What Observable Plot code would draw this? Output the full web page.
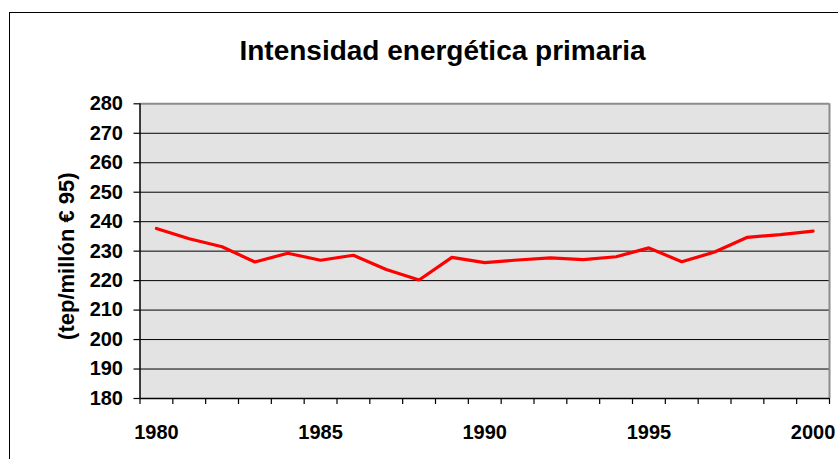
<!DOCTYPE html>
<html>
<head>
<meta charset="utf-8">
<script src="https://cdn.jsdelivr.net/npm/d3@7"></script>
<script src="https://cdn.jsdelivr.net/npm/@observablehq/plot@0.6"></script>
<style>
  html, body { margin: 0; padding: 0; background: #fff; overflow: hidden; }
  #wrap { position: relative; width: 838px; height: 459px; font-family: "Liberation Sans", Arial, sans-serif; }
  #border { position: absolute; left: 9px; top: 12px; width: 900px; height: 500px; border-left: 1.5px solid #000; border-top: 1.5px solid #000; }
  #title { position: absolute; left: 442.5px; top: 37px; transform: translateX(-50%); white-space: nowrap;
           font-size: 28px; line-height: 28px; font-weight: bold; color: #000; }
  #chart { position: absolute; left: 0; top: 76px; }
</style>
</head>
<body>
<div id="wrap">
  <div id="border"></div>
  <div id="title">Intensidad energética primaria</div>
  <div id="chart"></div>
</div>
<script>
const years = [1980,1981,1982,1983,1984,1985,1986,1987,1988,1989,1990,1991,1992,1993,1994,1995,1996,1997,1998,1999,2000];
const values = [237.7,234.2,231.5,226.3,229.3,226.9,228.6,223.8,220.2,227.9,226.1,227.0,227.7,227.1,228.1,231.1,226.4,229.7,234.7,235.6,236.8];
const yTicks = [180,190,200,210,220,230,240,250,260,270,280];
const xLabelYears = [1980,1985,1990,1995,2000];
const yLabel = "(tep/millón € 95)";

const data = years.map((y, i) => ({year: y, value: values[i]}));
const boundaries = years.map(y => y - 0.5).concat([years[years.length - 1] + 0.5]);
const xMin = boundaries[0], xMax = boundaries[boundaries.length - 1];
const yMin = yTicks[0], yMax = yTicks[yTicks.length - 1];

const chart = Plot.plot({
  width: 838,
  height: 383,
  marginLeft: 139.5,
  marginRight: 9,
  marginTop: 27.3,
  marginBottom: 61,
  x: {domain: [xMin, xMax]},
  y: {domain: [yMin, yMax]},
  style: {fontFamily: '"Liberation Sans", Arial, sans-serif', fontSize: "20px", fontWeight: "bold", color: "#000", background: "transparent", overflow: "visible"},
  marks: [
    Plot.frame({fill: "#e3e3e3", stroke: null}),
    Plot.ruleY(yTicks.slice(1, -1), {stroke: "#000", strokeWidth: 1}),
    Plot.ruleY([yMax], {stroke: "#8c8c8c", strokeWidth: 2}),
    Plot.ruleX([xMax], {stroke: "#8c8c8c", strokeWidth: 2}),
    Plot.line(data, {x: "year", y: "value", stroke: "#ff0000", strokeWidth: 3.2, strokeLinejoin: "miter"}),
    Plot.ruleX([xMin], {stroke: "#000", strokeWidth: 1.5}),
    Plot.ruleY([yMin], {stroke: "#000", strokeWidth: 1.5}),
    Plot.axisY({ticks: yTicks, tickSize: 6, tickPadding: 11, tickFormat: d => String(d), label: null, stroke: "#000", strokeWidth: 1.2}),
    Plot.axisX({ticks: boundaries, tickSize: 6, tickFormat: () => "", label: null, stroke: "#000", strokeWidth: 1.2}),
    Plot.axisX({ticks: xLabelYears, tickSize: 0, tickPadding: 26, tickFormat: d => String(d), label: null}),
    Plot.text([{x: xMin, y: (yMin + yMax) / 2, t: yLabel}], {x: "x", y: "y", text: "t", rotate: -90, dx: -73, dy: 5, fontSize: 22, fontWeight: "bold", fill: "#000"})
  ]
});
document.getElementById("chart").appendChild(chart);
</script>
</body>
</html>
